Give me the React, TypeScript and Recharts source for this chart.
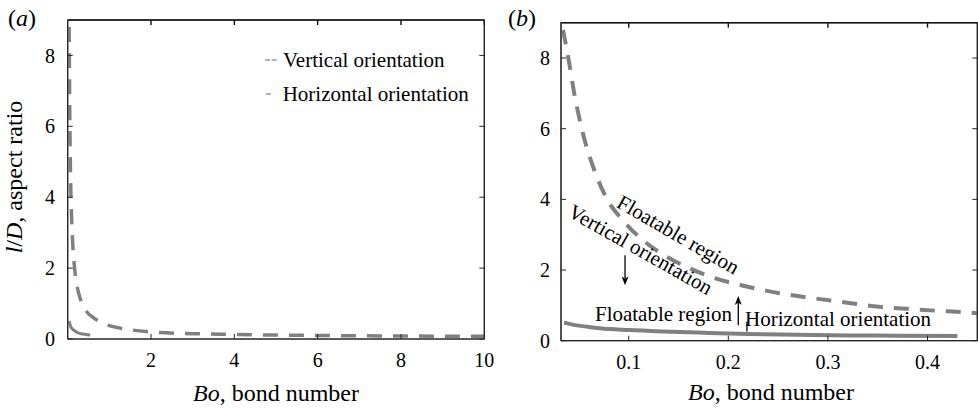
import React from 'react';
import { LineChart, Line, XAxis, YAxis, ReferenceDot, ReferenceLine, ReferenceArea } from 'recharts';

const SERIF = "Liberation Serif, Tinos, 'DejaVu Serif', 'Noto Serif', serif";
const CURVE = '#808080';
const AXIS = '#262626';

// Vertical orientation: bond number Bo and aspect ratio l/D
const vertBo = [0.034, 0.0405, 0.0454, 0.0508, 0.0569, 0.0654, 0.0788, 0.094, 0.114, 0.138, 0.161, 0.181, 0.213, 0.239, 0.268, 0.294, 0.323, 0.351, 0.379, 0.408, 0.434, 0.45];
const vertLD = [8.8, 7.82, 6.98, 6.25, 5.56, 4.83, 3.98, 3.41, 2.85, 2.38, 2.05, 1.82, 1.57, 1.41, 1.27, 1.17, 1.06, 0.96, 0.905, 0.85, 0.81, 0.78];
// continuation of the vertical curve shown in panel (a)
const vertBoTail = [0.6, 0.94, 1.2, 1.57, 2, 3, 4, 5, 6, 7, 8, 9, 10];
const vertLDTail = [0.62, 0.4, 0.32, 0.25, 0.2, 0.15, 0.13, 0.11, 0.1, 0.09, 0.085, 0.08, 0.075];

// Horizontal orientation
const horizBo = [0.035, 0.046, 0.06, 0.071, 0.1, 0.135, 0.17, 0.22, 0.27, 0.32, 0.37, 0.43];
const horizLD = [0.51, 0.44, 0.39, 0.35, 0.3, 0.26, 0.23, 0.19, 0.165, 0.15, 0.14, 0.13];
const horizBoTail = [0.54];
const horizLDTail = [0.11];

// axes
const xTicksA = [2, 4, 6, 8, 10];
const xTicksB = [0.1, 0.2, 0.3, 0.4];
const yTicks = [0, 2, 4, 6, 8];
const xDomainA = [0, 10];
const xDomainB = [0.032, 0.45];
const yDomain = [0, 9];
const yTop = yDomain[1];
const topTickLen = 0.14; // inward tick length on the top frame, in l/D units

const zip = (bo: number[], ld: number[]) => bo.map((b, i) => ({ bo: b, ld: ld[i] }));

const vertA = zip([...vertBo, ...vertBoTail], [...vertLD, ...vertLDTail]);
const horizA = zip([...horizBo, ...horizBoTail], [...horizLD, ...horizLDTail]);
const vertB = zip(vertBo, vertLD);
const horizB = zip(horizBo, horizLD);

const tickStyle = { fill: '#000', fontSize: 20, fontFamily: SERIF };
const blank = () => '';

const Arrow = (head: boolean) => (p: any) => {
  const { x1, y1, x2, y2 } = p;
  const dx = x2 - x1;
  const dy = y2 - y1;
  const len = Math.sqrt(dx * dx + dy * dy) || 1;
  const ux = dx / len;
  const uy = dy / len;
  const hl = 9;
  const hw = 3.5;
  const bx = x2 - ux * hl;
  const by = y2 - uy * hl;
  const nx = bx + ux * 2.5;
  const ny = by + uy * 2.5;
  return (
    <g>
      <line x1={x1} y1={y1} x2={head ? nx : x2} y2={head ? ny : y2} stroke="#000" strokeWidth={1.3} />
      {head && (
        <polygon
          points={`${x2},${y2} ${bx - uy * hw},${by + ux * hw} ${nx},${ny} ${bx + uy * hw},${by - ux * hw}`}
          fill="#000"
        />
      )}
    </g>
  );
};

// plain line drawn by a reference line (used for the top frame and its ticks)
const FrameLine = (p: any) => <line x1={p.x1} y1={p.y1} x2={p.x2} y2={p.y2} stroke="#111" strokeWidth={1.4} />;

const annoText = (label: string, rotate: number, anchor: 'start' | 'middle', centered: boolean) => (p: any) => (
  <text
    x={p.cx}
    y={p.cy}
    dy={centered ? '0.35em' : 0}
    textAnchor={anchor}
    style={{ fontFamily: SERIF, fontSize: 21 }}
    fill="#000"
    transform={rotate ? `rotate(${rotate} ${p.cx} ${p.cy})` : undefined}
  >
    {label}
  </text>
);

const topFrame = (xDomain: number[], xTicks: number[]) => [
  <ReferenceArea key="box" xAxisId="x" yAxisId="y" x1={xDomain[0]} x2={xDomain[1]} y1={yDomain[0]} y2={yTop} ifOverflow="visible" fill="none" fillOpacity={0} stroke={AXIS} strokeWidth={1.2} />,
  <ReferenceLine
    key="top"
    xAxisId="x"
    yAxisId="y"
    ifOverflow="visible"
    segment={[{ x: xDomain[0], y: yTop }, { x: xDomain[1], y: yTop }]}
    shape={FrameLine}
  />,
  ...xTicks.map((t) => (
    <ReferenceLine
      key={`tt${t}`}
      xAxisId="x"
      yAxisId="y"
      ifOverflow="visible"
      segment={[{ x: t, y: yTop }, { x: t, y: yTop - topTickLen }]}
      shape={FrameLine}
    />
  )),
];

export default function App() {
  return (
    <div style={{ position: 'absolute', left: 0, top: 0, width: 978, height: 408, background: '#fff' }}>
      {/* Panel (a) */}
      <div style={{ position: 'absolute', left: 0, top: 0 }}>
        <LineChart width={510} height={408} margin={{ top: 20, right: 15.7, bottom: 39, left: 27.7 }}>
          <XAxis
            xAxisId="x"
            type="number"
            dataKey="bo"
            domain={xDomainA}
            ticks={xTicksA}
            interval={0}
            allowDataOverflow
            tickSize={-5}
            tickMargin={19}
            height={30}
            stroke={AXIS}
            tick={tickStyle}
          />
          <YAxis
            yAxisId="y"
            type="number"
            domain={yDomain}
            ticks={yTicks}
            interval={0}
            allowDataOverflow
            width={40}
            tickSize={-5}
            tickMargin={17.7}
            stroke={AXIS}
            tick={tickStyle}
          />
          <YAxis yAxisId="yr" orientation="right" type="number" domain={yDomain} ticks={yTicks} interval={0} allowDataOverflow width={10} tickSize={-5} tickFormatter={blank} stroke={AXIS} />
          <Line xAxisId="x" yAxisId="yr" data={vertA} dataKey="ld" stroke="none" strokeWidth={0} dot={false} activeDot={false} isAnimationActive={false} />
          {topFrame(xDomainA, xTicksA)}
          <Line xAxisId="x" yAxisId="y" data={horizA} dataKey="ld" type="monotone" stroke={CURVE} strokeWidth={3} dot={false} isAnimationActive={false} />
          <Line xAxisId="x" yAxisId="y" data={vertA} dataKey="ld" type="monotone" stroke={CURVE} strokeWidth={3.5} strokeDasharray="15 11" dot={false} isAnimationActive={false} />
        </LineChart>
      </div>

      {/* Panel (b) */}
      <div style={{ position: 'absolute', left: 490, top: 0 }}>
        <LineChart width={498} height={408} margin={{ top: 22.7, right: 0.7, bottom: 37.3, left: 31 }}>
          <XAxis
            xAxisId="x"
            type="number"
            dataKey="bo"
            domain={xDomainB}
            ticks={xTicksB}
            interval={0}
            allowDataOverflow
            tickSize={-5}
            tickMargin={19}
            height={30}
            stroke={AXIS}
            tick={tickStyle}
          />
          <YAxis
            yAxisId="y"
            type="number"
            domain={yDomain}
            ticks={yTicks}
            interval={0}
            allowDataOverflow
            width={40}
            tickSize={-5}
            tickMargin={16}
            stroke={AXIS}
            tick={tickStyle}
          />
          <YAxis yAxisId="yr" orientation="right" type="number" domain={yDomain} ticks={yTicks} interval={0} allowDataOverflow width={10} tickSize={-5} tickFormatter={blank} stroke={AXIS} />
          <Line xAxisId="x" yAxisId="yr" data={vertB} dataKey="ld" stroke="none" strokeWidth={0} dot={false} activeDot={false} isAnimationActive={false} />
          {topFrame(xDomainB, xTicksB)}
          <Line xAxisId="x" yAxisId="y" data={horizB} dataKey="ld" type="monotone" stroke={CURVE} strokeWidth={4} dot={false} isAnimationActive={false} />
          <Line xAxisId="x" yAxisId="y" data={vertB} dataKey="ld" type="monotone" stroke={CURVE} strokeWidth={4} strokeDasharray="15 11" dot={false} isAnimationActive={false} />

          <ReferenceDot xAxisId="x" yAxisId="y" x={0.1498} y={3.01} r={0} shape={annoText('Floatable region', 30, 'middle', true)} />
          <ReferenceDot xAxisId="x" yAxisId="y" x={0.1121} y={2.59} r={0} shape={annoText('Vertical orientation', 29.5, 'middle', true)} />
          <ReferenceDot xAxisId="x" yAxisId="y" x={0.0661} y={0.56} r={0} shape={annoText('Floatable region', 0, 'start', false)} />
          <ReferenceDot xAxisId="x" yAxisId="y" x={0.2168} y={0.42} r={0} shape={annoText('Horizontal orientation', 0, 'start', false)} />

          <ReferenceLine xAxisId="x" yAxisId="y" segment={[{ x: 0.0963, y: 2.42 }, { x: 0.0963, y: 1.57 }]} shape={Arrow(true)} />
          <ReferenceLine xAxisId="x" yAxisId="y" segment={[{ x: 0.21, y: 0.44 }, { x: 0.21, y: 1.265 }]} shape={Arrow(true)} />
          <ReferenceLine xAxisId="x" yAxisId="y" segment={[{ x: 0.2187, y: 0.26 }, { x: 0.2187, y: 0.54 }]} shape={Arrow(false)} />
        </LineChart>
      </div>

      {/* Titles, panel labels and legend */}
      <svg width={978} height={408} style={{ position: 'absolute', left: 0, top: 0, pointerEvents: 'none' }}>
        <g style={{ fontFamily: SERIF }} fill="#000">
          <text x={8} y={26} fontSize={24}>
            (<tspan fontStyle="italic">a</tspan>)
          </text>
          <text x={508} y={26} fontSize={24}>
            (<tspan fontStyle="italic">b</tspan>)
          </text>
          <text x={276} y={401} fontSize={24} textAnchor="middle">
            <tspan fontStyle="italic">Bo</tspan>, bond number
          </text>
          <text x={771} y={400} fontSize={24} textAnchor="middle">
            <tspan fontStyle="italic">Bo</tspan>, bond number
          </text>
          <text x={22} y={177} fontSize={24} textAnchor="middle" transform="rotate(-90 22 177)">
            <tspan fontStyle="italic">l</tspan>/<tspan fontStyle="italic">D</tspan>, aspect ratio
          </text>

          {/* legend */}
          <line x1={265} y1={60} x2={270} y2={60} stroke="#999" strokeWidth={1.5} />
          <line x1={271.7} y1={60} x2={276.7} y2={60} stroke="#999" strokeWidth={1.5} />
          <text x={283} y={67} fontSize={21}>Vertical orientation</text>
          <line x1={266} y1={94} x2={271} y2={94} stroke="#999" strokeWidth={1.5} />
          <text x={282.7} y={101} fontSize={21}>Horizontal orientation</text>
        </g>
      </svg>
    </div>
  );
}
